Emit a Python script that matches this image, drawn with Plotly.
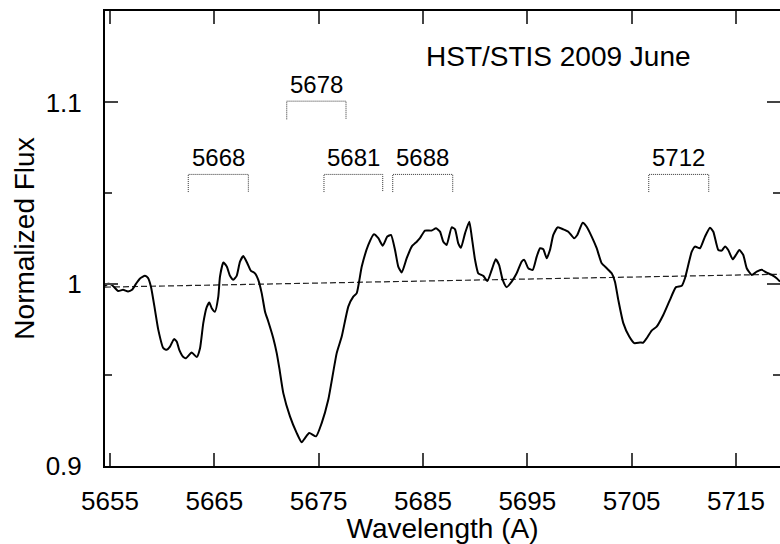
import plotly.graph_objects as go

# HST/STIS spectrum
wavelength = [
    5654.52, 5654.81, 5655.10, 5655.38, 5655.77, 5656.25, 5656.73, 5657.11, 5657.49, 5657.88,
    5658.35, 5658.64, 5658.93, 5659.31, 5659.63, 5660.11, 5660.43, 5660.75, 5661.13, 5661.39,
    5661.64, 5662.03, 5662.28, 5662.83, 5663.31, 5663.63, 5663.94, 5664.27, 5664.52, 5664.75,
    5665.06, 5665.38, 5665.54, 5665.86, 5666.19, 5666.50, 5666.82, 5667.14, 5667.46, 5667.78,
    5668.16, 5668.49, 5668.90, 5669.21, 5669.54, 5669.86, 5670.17, 5670.65, 5670.98, 5671.23,
    5671.61, 5672.25, 5672.90, 5673.37, 5673.69, 5674.10, 5674.75, 5675.29, 5675.92, 5676.73,
    5677.21, 5677.84, 5678.32, 5678.65, 5679.13, 5679.76, 5680.30, 5680.72, 5681.14, 5681.58,
    5681.93, 5682.32, 5682.63, 5682.96, 5683.44, 5683.92, 5684.40, 5684.71, 5685.19, 5685.83,
    5686.25, 5686.63, 5686.95, 5687.27, 5687.75, 5688.07, 5688.38, 5688.64, 5689.03, 5689.44,
    5689.67, 5689.99, 5690.30, 5690.78, 5691.17, 5691.59, 5691.97, 5692.29, 5692.64, 5693.02,
    5693.50, 5693.98, 5694.46, 5694.71, 5695.09, 5695.52, 5695.90, 5696.22, 5696.53, 5696.86,
    5697.17, 5697.49, 5697.91, 5698.45, 5698.93, 5699.48, 5699.79, 5700.31, 5700.69, 5701.17,
    5701.65, 5702.13, 5702.61, 5703.09, 5703.40, 5703.72, 5704.20, 5704.77, 5705.25, 5705.80,
    5706.12, 5706.44, 5706.92, 5707.40, 5708.03, 5708.67, 5709.25, 5709.80, 5710.11, 5710.76,
    5711.07, 5711.55, 5712.03, 5712.51, 5712.83, 5713.31, 5713.63, 5713.95, 5714.26, 5714.68,
    5715.00, 5715.32, 5715.70, 5716.03, 5716.51, 5716.99, 5717.47, 5717.94, 5718.42, 5718.90,
    5719.22,
]
flux = [
    0.9991, 1.0002, 0.9999, 0.9985, 0.9963, 0.9969, 0.9960, 0.9969, 1.0002, 1.0032,
    1.0046, 1.0035, 0.9985, 0.9859, 0.9749, 0.9648, 0.9639, 0.9657, 0.9698, 0.9685,
    0.9639, 0.9599, 0.9593, 0.9624, 0.9599, 0.9648, 0.9786, 0.9874, 0.9899, 0.9868,
    0.9849, 0.9932, 1.0042, 1.0119, 1.0097, 1.0046, 1.0024, 1.0046, 1.0124, 1.0155,
    1.0115, 1.0075, 1.0060, 1.0024, 0.9951, 0.9849, 0.9795, 0.9703, 0.9621, 0.9538,
    0.9401, 0.9273, 0.9181, 0.9130, 0.9154, 0.9181, 0.9163, 0.9236, 0.9364, 0.9621,
    0.9712, 0.9877, 0.9932, 0.9951, 1.0097, 1.0216, 1.0275, 1.0253, 1.0212, 1.0262,
    1.0271, 1.0188, 1.0097, 1.0064, 1.0143, 1.0207, 1.0234, 1.0253, 1.0295, 1.0295,
    1.0308, 1.0289, 1.0234, 1.0216, 1.0313, 1.0302, 1.0225, 1.0201, 1.0280, 1.0344,
    1.0262, 1.0134, 1.0060, 1.0046, 1.0018, 1.0079, 1.0137, 1.0106, 1.0024, 0.9984,
    1.0014, 1.0060, 1.0124, 1.0134, 1.0088, 1.0079, 1.0152, 1.0198, 1.0192, 1.0143,
    1.0188, 1.0271, 1.0313, 1.0302, 1.0289, 1.0253, 1.0271, 1.0338, 1.0316, 1.0262,
    1.0198, 1.0115, 1.0088, 1.0060, 1.0014, 0.9914, 0.9786, 0.9712, 0.9676, 0.9679,
    0.9679, 0.9703, 0.9745, 0.9767, 0.9831, 0.9914, 0.9984, 0.9991, 1.0033, 1.0179,
    1.0207, 1.0198, 1.0262, 1.0311, 1.0289, 1.0188, 1.0185, 1.0207, 1.0188, 1.0137,
    1.0161, 1.0188, 1.0161, 1.0088, 1.0051, 1.0069, 1.0079, 1.0064, 1.0051, 1.0033,
    1.0014,
]

# continuum fit (dashed)
continuum_x = [5654.52, 5719.22]
continuum_y = [0.9984, 1.0055]

# line identifications and their velocity brackets
line_labels = ["5668", "5678", "5681", "5688", "5712"]
bracket_blue = [5662.50, 5671.94, 5675.51, 5682.10, 5706.64]
bracket_red = [5668.26, 5677.62, 5681.14, 5687.85, 5712.39]
bracket_top = [1.0604, 1.1007, 1.0604, 1.0604, 1.0604]
bracket_foot = [1.0507, 1.0907, 1.0507, 1.0507, 1.0507]

FONT = "Liberation Sans, Arial, Helvetica, sans-serif"

fig = go.Figure()

fig.add_trace(go.Scatter(
    x=continuum_x, y=continuum_y, mode="lines",
    line=dict(color="#222222", width=1.2, dash="6px,3px"),
    showlegend=False, hoverinfo="skip",
))

fig.add_trace(go.Scatter(
    x=wavelength, y=flux, mode="lines",
    line=dict(color="black", width=2, shape="spline", smoothing=0.5),
    showlegend=False,
))

for lab, xb, xr, yt, yf in zip(line_labels, bracket_blue, bracket_red, bracket_top, bracket_foot):
    fig.add_trace(go.Scatter(
        x=[xb, xb, xr, xr], y=[yf, yt, yt, yf], mode="lines",
        line=dict(color="#333333", width=1, dash="1px,1px"),
        showlegend=False, hoverinfo="skip",
    ))
    fig.add_annotation(
        x=(xb + xr) / 2, y=yt, text=lab, showarrow=False,
        yanchor="bottom", yshift=1,
        font=dict(family=FONT, size=24, color="black"),
    )

fig.add_annotation(
    x=5698.0, y=1.1254, text="HST/STIS 2009 June", showarrow=False,
    font=dict(family=FONT, size=28, color="black"),
)

fig.update_layout(
    width=780, height=544,
    margin=dict(l=105, r=0, t=11, b=78),
    paper_bgcolor="white", plot_bgcolor="white",
    font=dict(family=FONT, size=26, color="black"),
    xaxis=dict(
        range=[5654.52, 5719.22],
        tick0=5655, dtick=10,
        ticks="inside", ticklen=13, tickwidth=1.5, tickcolor="#444444",
        showline=True, linecolor="black", linewidth=2, mirror="ticks",
        showgrid=False, zeroline=False, automargin=False,
        title=dict(text="Wavelength (A)", standoff=0, font=dict(size=28)),
        tickfont=dict(size=26),
        ticklabelstandoff=11,
    ),
    yaxis=dict(
        range=[0.9, 1.1503],
        tickvals=[0.9, 1.0, 1.1], ticktext=["0.9", "1", "1.1"],
        ticks="inside", ticklen=13, tickwidth=1.5, tickcolor="#444444",
        minor=dict(dtick=0.05, tick0=0.9, ticks="inside", ticklen=7, tickwidth=1.5, tickcolor="#444444", showgrid=False),
        showline=True, linecolor="black", linewidth=2, mirror="ticks",
        showgrid=False, zeroline=False, automargin=False,
        title=dict(text="Normalized Flux", standoff=3, font=dict(size=28)),
        tickfont=dict(size=26),
        ticklabelstandoff=16,
    ),
)

# drop the default 8px body margin so the figure sits at the window corner
fig.write_html(
    "out.html",
    config={"displayModeBar": False},
    post_script="document.body.style.margin = '0';",
)
